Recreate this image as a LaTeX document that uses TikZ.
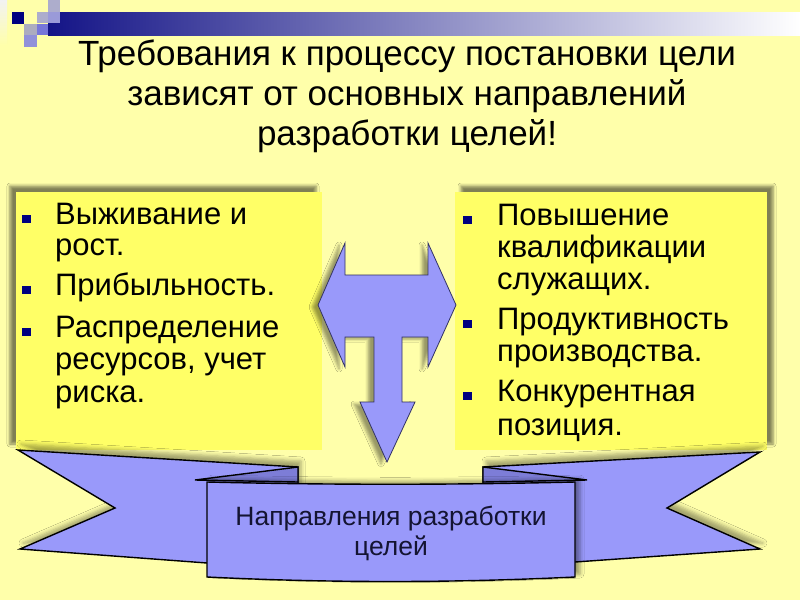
\documentclass[tikz,border=0pt]{standalone}
\usepackage{fontspec}
\setmainfont{Liberation Sans}
\usetikzlibrary{shadows.blur}
\definecolor{bgyellow}{RGB}{255,255,170}
\definecolor{boxyellow}{RGB}{255,255,102}
\definecolor{ribbonblue}{RGB}{153,153,250}
\definecolor{folddark}{RGB}{125,125,215}
\definecolor{navybul}{RGB}{0,0,128}
\definecolor{barnavy}{RGB}{20,20,135}
\definecolor{arrowedge}{RGB}{50,50,100}
\definecolor{paneltext}{RGB}{20,20,50}
\tikzset{
  boxtext/.style={anchor=base west, inner sep=0pt, font=\fontsize{31}{32}\selectfont, text=black},
  titletext/.style={anchor=base, inner sep=0pt, font=\fontsize{35}{40}\selectfont, text=black},
  ptext/.style={anchor=base, inner sep=0pt, font=\fontsize{26.5}{30}\selectfont, text=paneltext},
  bulletsq/.style={fill=navybul},
  ribbonpart/.style={fill=ribbonblue, draw=black, line width=1.4pt, line join=miter},
  ribshadow/.style={blur shadow={shadow xshift=3pt, shadow yshift=6pt, shadow blur radius=4pt, shadow opacity=35}},
}
\begin{document}
\begin{tikzpicture}[x=1pt,y=-1pt]
\useasboundingbox (0,0) rectangle (800,600);
\fill[bgyellow] (0,0) rectangle (800,600);
% top-left decoration
\shade[top color=white!90!gray, bottom color=bgyellow] (0,0) rectangle (7,45);
\shade[left color=barnavy, right color=white] (48,12) rectangle (800,35);
\fill[navybul] (12,12) rectangle (24,24);
\fill[white!80!blue!60!gray] (37,12) rectangle (48,23);
\fill[white!80!blue!60!gray] (48,0) rectangle (60,12);
\fill[white!65!blue!70!gray] (48,12) rectangle (60,23);
\fill[white!85!blue!50!gray] (24,24) rectangle (37,35);
\fill[white!45!blue!70!gray] (37,24) rectangle (48,35);
\fill[white!60!blue!70!gray] (24,35) rectangle (37,47);
% title
\node[titletext] (t1) at (407,65) {Требования к процессу постановки цели};
\node[titletext] (t2) at (407,105) {зависят от основных направлений};
\node[titletext] (t3) at (407,145) {разработки целей!};
% boxes
\fill[boxyellow, blur shadow={shadow xshift=-6pt, shadow yshift=6pt, shadow blur radius=3pt, shadow opacity=50}] (16,192) rectangle (322,450);
\fill[boxyellow, blur shadow={shadow xshift=6pt, shadow yshift=6pt, shadow blur radius=3pt, shadow opacity=50}] (455,192) rectangle (767,450);
% left text
\node[boxtext] (l1) at (55,224) {Выживание и};
\node[boxtext] (l2) at (55,255) {рост.};
\node[boxtext] (l3) at (55,295) {Прибыльность.};
\node[boxtext] (l4) at (55,337) {Распределение};
\node[boxtext] (l5) at (55,369) {ресурсов, учет};
\node[boxtext] (l6) at (55,402) {риска.};
\foreach \b in {224,295,337} {\fill[bulletsq] (22,\b-9) rectangle (31,\b-1);}
% right text
\node[boxtext] (r1) at (497,225) {Повышение};
\node[boxtext] (r2) at (497,257) {квалификации};
\node[boxtext] (r3) at (497,289) {служащих.};
\node[boxtext] (r4) at (497,329) {Продуктивность};
\node[boxtext] (r5) at (497,361) {производства.};
\node[boxtext] (r6) at (497,401) {Конкурентная};
\node[boxtext] (r7) at (497,435) {позиция.};
\foreach \b in {225,329,401} {\fill[bulletsq] (463,\b-9) rectangle (472,\b-1);}
% central arrow
\draw[fill=ribbonblue, draw=arrowedge, line width=0.8pt, line join=miter,
  blur shadow={shadow xshift=-6pt, shadow yshift=-2pt, shadow blur radius=3pt, shadow opacity=40}]
  (318,305) -- (345,243) -- (345,275) -- (428,275) -- (428,243) -- (456,305)
  -- (428,367) -- (428,337) -- (402,337) -- (402,402) -- (415,402) -- (387,462)
  -- (360,402) -- (374,402) -- (374,337) -- (345,337) -- (345,367) -- cycle;
% ribbon tails
\draw[ribbonpart, ribshadow] (18,450) -- (298,467) -- (298,520) -- (207,563) -- (20,549) -- (115,508) -- cycle;
\draw[ribbonpart, ribshadow] (760,452) -- (483,467) -- (483,520) -- (575,562) -- (760,549) -- (667,508) -- cycle;
% folds
\draw[fill=folddark, draw=black, line width=1.4pt, line join=miter] (195,480) -- (298,467) -- (298,482) -- cycle;
\draw[fill=folddark, draw=black, line width=1.4pt, line join=miter] (587,480) -- (483,467) -- (483,482) -- cycle;
% central panel
\draw[ribbonpart, blur shadow={shadow xshift=5pt, shadow yshift=3pt, shadow blur radius=4pt, shadow opacity=40}]
  (207,482) .. controls (330,485) and (450,485) .. (575,482) -- (575,577)
  .. controls (450,583) and (330,583) .. (207,577) -- cycle;
\node[ptext] (p1) at (391,525) {Направления разработки};
\node[ptext] (p2) at (391,555) {целей};
\end{tikzpicture}
\end{document}
